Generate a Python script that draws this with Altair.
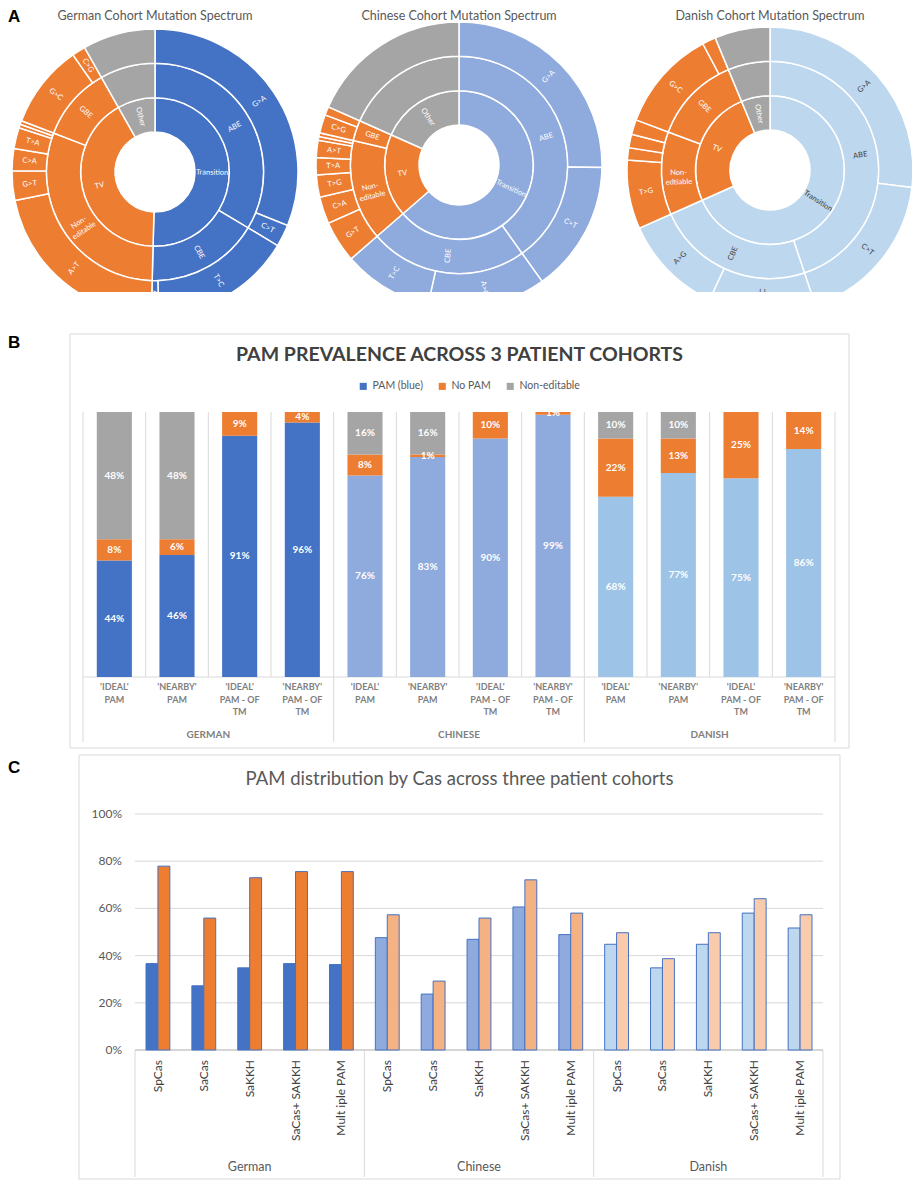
import altair as alt
import pandas as pd

FONT = "Lato"
ORANGE = "#ED7D31"
GRAY = "#A5A5A5"
BLUE_DE = "#4472C4"
BLUE_CN = "#8FAADC"
BLUE_DK_A = "#BDD7EE"
BLUE_DK_B = "#9DC3E6"
TXT = "#595959"
LINE = "#D9D9D9"

# ---------------- Panel A data (sunbursts, leaf order clockwise from 12 o'clock) ----------------
SB_TITLES = ["German Cohort Mutation Spectrum", "Chinese Cohort Mutation Spectrum",
             "Danish Cohort Mutation Spectrum"]

GER_TOP = ["Transition"] * 4 + ["TV"] * 8 + ["Other"]
GER_MID = ["ABE", "ABE", "CBE", "CBE"] + ["Non-\neditable"] * 6 + ["GBE", "GBE"] + ["Other"]
GER_LEAF = ["G>A", "C>T", "T>C", "A>G", "A>T", "G>T", "C>A", "T>A", "", "", "G>C", "C>G", ""]
GER_SIZE = [112, 9, 57.5, 3, 77, 12, 9, 8.5, 1.5, 1.5, 34, 5.5, 29.5]

CHN_TOP = ["Transition"] * 4 + ["TV"] * 9 + ["Other"]
CHN_MID = ["ABE", "ABE", "CBE", "CBE"] + ["Non-\neditable"] * 7 + ["GBE", "GBE"] + ["Other"]
CHN_LEAF = ["G>A", "C>T", "A>G", "T>C", "G>T", "C>A", "T>G", "T>A", "A>T", "", "", "C>G", "", ""]
CHN_SIZE = [91, 53.5, 48, 36.5, 17, 11, 9, 7, 7, 1.5, 1.5, 7.5, 3.5, 66]

DAN_TOP = ["Transition"] * 4 + ["TV"] * 6 + ["Other"]
DAN_MID = ["ABE", "ABE", "CBE", "CBE"] + ["Non-\nedtiable"] * 4 + ["GBE", "GBE"] + ["Other"]
DAN_LEAF = ["G>A", "C>T", "T>C", "A>G", "T>G", "", "", "", "G>C", "", ""]
DAN_SIZE = [97, 64.5, 43.5, 41, 28, 5, 5.5, 6, 41.5, 5.5, 22.5]

# ---------------- Panel B data ----------------
COHORTS = ["German", "Chinese", "Danish"]
B_TITLE = "PAM PREVALENCE ACROSS 3 PATIENT COHORTS"
B_CATS = ["'IDEAL'\nPAM", "'NEARBY'\nPAM", "'IDEAL'\nPAM - OF\nTM", "'NEARBY'\nPAM - OF\nTM"]
B_GROUPS = ["GERMAN", "CHINESE", "DANISH"]
B_SERIES = ["PAM (blue)", "No PAM", "Non-editable"]
B_PAM = [44, 46, 91, 96, 76, 83, 90, 99, 68, 77, 75, 86]
B_NOPAM = [8, 6, 9, 4, 8, 1, 10, 1, 22, 13, 25, 14]
B_NONED = [48, 48, 0, 0, 16, 16, 0, 0, 10, 10, 0, 0]

# ---------------- Panel C data ----------------
C_TITLE = "PAM distribution by Cas across three patient cohorts"
C_CATS = ["SpCas", "SaCas", "SaKKH", "SaCas+ SAKKH", "Mult iple PAM"]
C_BLUE = [36.6, 27.2, 34.8, 36.6, 36.2, 47.6, 23.7, 46.9, 60.6, 48.9, 44.8, 34.8, 44.8, 58.0, 51.7]
C_ORANGE = [77.9, 55.9, 73.0, 75.6, 75.6, 57.3, 29.2, 55.9, 72.1, 58.0, 49.7, 38.7, 49.7, 64.1, 57.3]
C_TICKS = [0, 20, 40, 60, 80, 100]

ONE = pd.DataFrame({"k": [0]})


def txt(text, x, y, **kw):
    base = dict(font=FONT, color=TXT, align="center", baseline="middle")
    base.update(kw)
    return alt.Chart(ONE).mark_text(**base).encode(x=alt.value(x), y=alt.value(y), text=alt.value(text))


def box(x0, x1, y0, y1):
    return alt.Chart(ONE).mark_rect(filled=False, stroke=LINE, strokeWidth=1).encode(
        x=alt.value(x0), x2=alt.value(x1), y=alt.value(y0), y2=alt.value(y1))


# ---------------- Sunburst construction ----------------
def sunburst_frame(top, mid, leaf, size, blue, tdark):
    total = float(sum(size))
    leaves, acc = [], 0.0
    for t, m, l, s in zip(top, mid, leaf, size):
        a0 = acc / total * 360.0
        acc += s
        leaves.append((t, m, l, a0, acc / total * 360.0))
    g0, g1 = {}, {}
    for t, m, l, a0, a1 in leaves:
        g0.setdefault(t, [a0, a1])[1] = a1
        g1.setdefault((t, m), [a0, a1])[1] = a1
    segs = []
    for t, (a0, a1) in g0.items():
        segs.append((0, t, t, a0, a1))
    for (t, m), (a0, a1) in g1.items():
        segs.append((1, t, m if m != t else "", a0, a1))
    for t, m, l, a0, a1 in leaves:
        segs.append((2, t, l, a0, a1))
    cmap = {"Transition": blue, "TV": ORANGE, "Other": GRAY}
    rows = []
    for ring, t, label, a0, a1 in segs:
        md = (a0 + a1) / 2.0
        ang = md - 90 if md <= 180 else md - 270
        rows.append(dict(start=a0, end=a1, mid=md, r0=ring, r1=ring + 1, rm=ring + 0.5,
                         label=label, fill=cmap[t],
                         tcolor=tdark if t == "Transition" else "white",
                         ang=(ang + 360) % 360))
    return pd.DataFrame(rows)


TH = alt.Scale(domain=[0, 360], range=[0, 6.283185307179586])
RS = alt.Scale(type="linear", zero=False, domain=[0, 3], range=[40, 143])

sb_specs = [
    (GER_TOP, GER_MID, GER_LEAF, GER_SIZE, BLUE_DE, "white", 147, 162, SB_TITLES[0]),
    (CHN_TOP, CHN_MID, CHN_LEAF, CHN_SIZE, BLUE_CN, "white", 451, 155, SB_TITLES[1]),
    (DAN_TOP, DAN_MID, DAN_LEAF, DAN_SIZE, BLUE_DK_A, "#404040", 762, 160, SB_TITLES[2]),
]
a_layers = []
for top, mid, leaf, size, blue, tdark, cx, cy, title in sb_specs:
    df = sunburst_frame(top, mid, leaf, size, blue, tdark)
    arcs = alt.Chart(df).mark_arc(stroke="white", strokeWidth=1.5, clip=True).encode(
        x=alt.value(cx), y=alt.value(cy),
        theta=alt.Theta("start:Q", scale=TH, stack=False),
        theta2=alt.Theta2("end:Q"),
        radius=alt.Radius("r1:Q", scale=RS),
        radius2=alt.Radius2("r0:Q"),
        color=alt.Color("fill:N", scale=None),
    )
    labs = alt.Chart(df[df["label"] != ""]).mark_text(
        font=FONT, fontSize=7.5, lineBreak="\n", clip=True, align="center", baseline="middle"
    ).encode(
        x=alt.value(cx), y=alt.value(cy),
        theta=alt.Theta("mid:Q", scale=TH, stack=False),
        radius=alt.Radius("rm:Q", scale=RS),
        text="label:N",
        angle=alt.Angle("ang:Q", scale=None),
        color=alt.Color("tcolor:N", scale=None),
    )
    a_layers += [arcs, labs, txt(title, cx, 0, fontSize=12.5, baseline="top")]
a_layers.append(txt("A", 0, 7, fontSize=17, fontWeight="bold", color="black", align="left",
                    font="Liberation Sans"))
rowA = alt.layer(*a_layers).properties(width=904, height=282)

# ---------------- Panel B ----------------
keysB = [f"{c}|{k}" for c in COHORTS for k in B_CATS]
pam_keys = {"German": "PAM (blue)", "Chinese": "PAM Chinese", "Danish": "PAM Danish"}
rowsB = []
for i, key in enumerate(keysB):
    coh = key.split("|")[0]
    acc = 0
    for sname, vals in zip(["PAM", "No PAM", "Non-editable"], [B_PAM, B_NOPAM, B_NONED]):
        v = vals[i]
        ck = pam_keys[coh] if sname == "PAM" else sname
        rowsB.append(dict(key=key, ck=ck, y0=acc, y1=acc + v, ym=acc + v / 2.0, v=v, lab=f"{v}%"))
        acc += v
dfB = pd.DataFrame(rowsB)
dfB = dfB[dfB["v"] > 0]

XB = alt.Scale(domain=keysB, range=[75, 827], paddingInner=0.44, paddingOuter=0.22)
YB = alt.Scale(domain=[0, 100], range=[385, 120])
QB = alt.Scale(domain=[0, len(keysB)], range=[75, 827])

color_dom = ["PAM (blue)", "No PAM", "Non-editable", "PAM Chinese", "PAM Danish"]
color_rng = [BLUE_DE, ORANGE, GRAY, BLUE_CN, BLUE_DK_B]

barsB = alt.Chart(dfB).mark_bar().encode(
    x=alt.X("key:N", scale=XB, sort=keysB, axis=None),
    y=alt.Y("y0:Q", scale=YB, axis=None),
    y2="y1:Q",
    color=alt.Color("ck:N", scale=alt.Scale(domain=color_dom, range=color_rng),
                    legend=alt.Legend(values=B_SERIES, orient="none", legendX=350, legendY=89,
                                      direction="horizontal", title=None, symbolType="square",
                                      symbolSize=50, symbolStrokeWidth=0, labelFont=FONT,
                                      labelFontSize=10.5, labelColor=TXT, columnPadding=14,
                                      symbolOffset=0, padding=0)),
)
valB = alt.Chart(dfB).mark_text(font=FONT, fontSize=10, fontWeight="bold", color="white").encode(
    x=alt.X("key:N", scale=XB, sort=keysB, axis=None),
    y=alt.Y("ym:Q", scale=YB, axis=None),
    text="lab:N",
)
bnd = pd.DataFrame({"b": list(range(len(keysB) + 1))})
grpB = pd.DataFrame({"b": [i * len(B_CATS) for i in range(len(COHORTS) + 1)]})
gridB = alt.Chart(bnd).mark_rule(color=LINE, strokeWidth=1).encode(
    x=alt.X("b:Q", scale=QB, axis=None), y=alt.value(120), y2=alt.value(385))
sepB = alt.Chart(grpB).mark_rule(color=LINE, strokeWidth=1).encode(
    x=alt.X("b:Q", scale=QB, axis=None), y=alt.value(385), y2=alt.value(450))
axB = alt.Chart(ONE).mark_rule(color=LINE, strokeWidth=1).encode(
    x=alt.value(75), x2=alt.value(827), y=alt.value(385))
catB = alt.Chart(pd.DataFrame({"key": keysB, "t": [k.split("|")[1] for k in keysB]})).mark_text(
    font=FONT, fontSize=9, fontWeight="bold", color="#7F7F7F", baseline="top", lineBreak="\n",
    lineHeight=12.5).encode(
    x=alt.X("key:N", scale=XB, sort=keysB, axis=None), y=alt.value(391), text="t:N")
gcB = pd.DataFrame({"c": [i * len(B_CATS) + len(B_CATS) / 2.0 for i in range(len(COHORTS))],
                    "g": B_GROUPS})
glB = alt.Chart(gcB).mark_text(font=FONT, fontSize=10, fontWeight="bold", color="#7F7F7F").encode(
    x=alt.X("c:Q", scale=QB, axis=None), y=alt.value(443), text="g:N")

rowB = alt.layer(
    box(62, 841, 42, 456),
    txt(B_TITLE, 451.5, 63, fontSize=19.5, fontWeight="bold", color="#404040"),
    txt("B", 0, 51, fontSize=17, fontWeight="bold", color="black", align="left", font="Liberation Sans"),
    gridB, sepB, axB, barsB, valB, catB, glB,
).resolve_scale(x="independent").properties(width=904, height=460)

# ---------------- Panel C ----------------
keysC = [f"{c}|{k}" for c in COHORTS for k in C_CATS]
pal = {"German": (BLUE_DE, ORANGE), "Chinese": (BLUE_CN, "#F4B183"), "Danish": (BLUE_DK_A, "#F8CBAD")}
rowsC = []
for i, key in enumerate(keysC):
    coh = key.split("|")[0]
    rowsC.append(dict(key=key, s="s1", v=C_BLUE[i], col=pal[coh][0]))
    rowsC.append(dict(key=key, s="s2", v=C_ORANGE[i], col=pal[coh][1]))
dfC = pd.DataFrame(rowsC)

XC = alt.Scale(domain=keysC, range=[127, 815], paddingInner=0.48, paddingOuter=0.24)
YC = alt.Scale(domain=[0, 100], range=[298, 62])
QC = alt.Scale(domain=[0, len(keysC)], range=[127, 815])

barsC = alt.Chart(dfC).mark_bar(stroke=BLUE_DE, strokeWidth=1).encode(
    x=alt.X("key:N", scale=XC, sort=keysC, axis=None),
    xOffset=alt.XOffset("s:N", scale=alt.Scale(domain=["s1", "s2"], paddingInner=0, paddingOuter=0)),
    y=alt.Y("v:Q", scale=YC, axis=None),
    color=alt.Color("col:N", scale=None),
)
tk = pd.DataFrame({"t": C_TICKS, "lab": [f"{t}%" for t in C_TICKS]})
gridC = alt.Chart(tk).mark_rule(color=LINE, strokeWidth=1).encode(
    y=alt.Y("t:Q", scale=YC, axis=None), x=alt.value(127), x2=alt.value(815))
ylabC = alt.Chart(tk).mark_text(font=FONT, fontSize=12, color=TXT, align="right").encode(
    y=alt.Y("t:Q", scale=YC, axis=None), x=alt.value(114), text="lab:N")
axC = alt.Chart(ONE).mark_rule(color="#BFBFBF", strokeWidth=1).encode(
    x=alt.value(127), x2=alt.value(815), y=alt.value(298))
grpC = pd.DataFrame({"b": [i * len(C_CATS) for i in range(len(COHORTS) + 1)]})
sepC = alt.Chart(grpC).mark_rule(color=LINE, strokeWidth=1).encode(
    x=alt.X("b:Q", scale=QC, axis=None), y=alt.value(298), y2=alt.value(425))
catC = alt.Chart(pd.DataFrame({"key": keysC, "t": [k.split("|")[1] for k in keysC]})).mark_text(
    font=FONT, fontSize=12, color="#404040", angle=270, align="right", baseline="middle").encode(
    x=alt.X("key:N", scale=XC, sort=keysC, axis=None), y=alt.value(308), text="t:N")
gcC = pd.DataFrame({"c": [i * len(C_CATS) + len(C_CATS) / 2.0 for i in range(len(COHORTS))],
                    "g": COHORTS})
glC = alt.Chart(gcC).mark_text(font=FONT, fontSize=12.5, color=TXT).encode(
    x=alt.X("c:Q", scale=QC, axis=None), y=alt.value(415), text="g:N")

rowC = alt.layer(
    box(71, 832, 3, 427),
    txt(C_TITLE, 451.5, 27, fontSize=18.5, color=TXT),
    txt("C", 0, 16, fontSize=17, fontWeight="bold", color="black", align="left", font="Liberation Sans"),
    gridC, ylabC, axC, sepC, barsC, catC, glC,
).resolve_scale(x="independent").properties(width=904, height=428)

chart = alt.vconcat(rowA, rowB, rowC, spacing=0, bounds="flush", padding=0).resolve_scale(
    x="independent", y="independent", color="independent"
).configure_view(stroke=None)

chart.save("out.html", embed_options={"renderer": "svg", "actions": False})
